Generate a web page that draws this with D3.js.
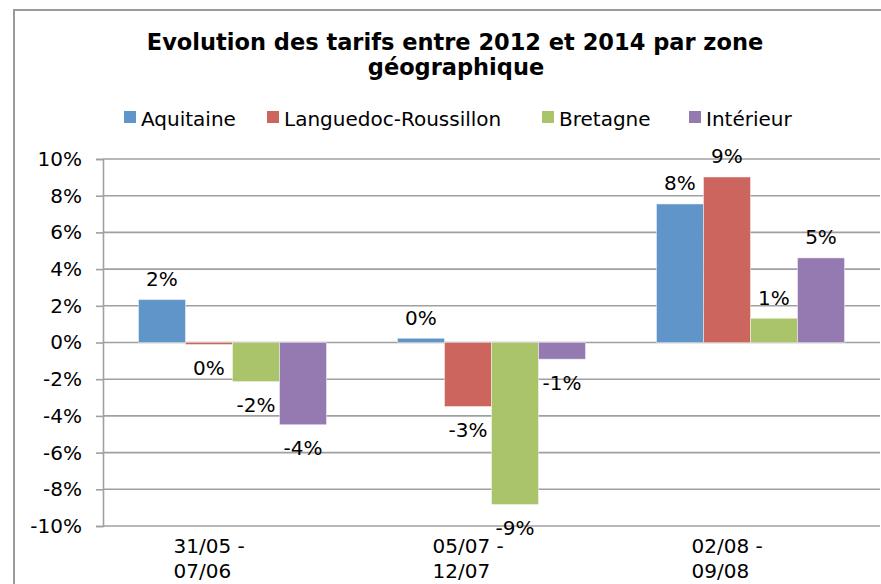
<!DOCTYPE html>
<html><head><meta charset="utf-8">
<script src="https://cdn.jsdelivr.net/npm/d3@7/dist/d3.min.js"></script>
<style>html,body{margin:0;padding:0;background:#fff;overflow:hidden;}svg{display:block;}</style>
</head><body>
<script>
const categories = ["31/05 - 07/06", "05/07 - 12/07", "02/08 - 09/08"];
const categoryLines = [["31/05 -", "07/06"], ["05/07 -", "12/07"], ["02/08 -", "09/08"]];
const seriesNames = ["Aquitaine", "Languedoc-Roussillon", "Bretagne", "Intérieur"];
const aquitaine = [2.34, 0.23, 7.55];
const languedoc = [-0.11, -3.49, 9.02];
const bretagne = [-2.13, -8.83, 1.32];
const interieur = [-4.48, -0.91, 4.61];
const yTicks = [-10, -8, -6, -4, -2, 0, 2, 4, 6, 8, 10];
const colors = ["#6095CA", "#CD655F", "#AAC46A", "#947AB0"];

const seriesValues = [aquitaine, languedoc, bretagne, interieur];
const W = 881, H = 584;
const font = "DejaVu Sans, Verdana, sans-serif";
const svg = d3.select("body").append("svg").attr("width", W).attr("height", H);

// chart frame
svg.append("rect").attr("x", 14).attr("y", 10).attr("width", 900).attr("height", 600)
  .attr("fill", "#fff").attr("stroke", "#9A9A9A").attr("stroke-width", 2);

// title
const title = svg.append("text").attr("text-anchor", "middle").attr("font-family", font)
  .attr("font-weight", "bold").attr("font-size", 22.5).attr("fill", "#000");
title.append("tspan").attr("x", 455).attr("y", 50).text("Evolution des tarifs entre 2012 et 2014 par zone");
title.append("tspan").attr("x", 456).attr("y", 75).text("géographique");

// scales
const x0 = d3.scaleBand().domain(categories).range([103, 880]).paddingInner(0.274).paddingOuter(0.137);
const x1 = d3.scaleBand().domain(seriesNames).range([0, x0.bandwidth()]).padding(0);
const y = d3.scaleLinear().domain([-10, 10]).range([526, 159]);

// gridlines
svg.append("g").selectAll("line").data(yTicks).join("line")
  .attr("x1", 103).attr("x2", 880).attr("y1", d => y(d)).attr("y2", d => y(d))
  .attr("stroke", "#A0A0A0").attr("stroke-width", 1.6);

// y axis
const yAxis = d3.axisLeft(y).tickValues(yTicks).tickFormat(d => d + "%").tickSize(7).tickPadding(14);
const ga = svg.append("g").attr("transform", "translate(103,0)").call(yAxis);
ga.select(".domain").attr("stroke", "#A0A0A0").attr("stroke-width", 1.6);
ga.selectAll(".tick line").attr("stroke", "#A0A0A0").attr("stroke-width", 1.6);
ga.selectAll(".tick text").attr("font-family", font).attr("font-size", 20).attr("fill", "#000");

// bars
const groups = svg.append("g").selectAll("g").data(categories).join("g")
  .attr("transform", c => `translate(${x0(c)},0)`);
groups.each(function(c, ci) {
  const g = d3.select(this);
  seriesNames.forEach((s, si) => {
    const v = seriesValues[si][ci];
    g.append("rect")
      .attr("x", x1(s)).attr("width", x1.bandwidth())
      .attr("y", y(Math.max(0, v))).attr("height", Math.abs(y(v) - y(0)))
      .attr("fill", colors[si]).attr("stroke", "rgba(255,255,255,0.45)").attr("stroke-width", 1);
    const r = Math.round(v);
    g.append("text").attr("text-anchor", "middle").attr("font-family", font).attr("font-size", 20)
      .attr("fill", "#000")
      .attr("x", x1(s) + x1.bandwidth() / 2)
      .attr("y", v >= 0 ? y(v) - 13.5 : y(v) + 30.5)
      .text((r === 0 ? 0 : r) + "%");
  });
});

// category labels
categories.forEach((c, ci) => {
  const cx = x0(c) + x0.bandwidth() / 2;
  const t = svg.append("text").attr("font-family", font).attr("font-size", 20).attr("fill", "#000");
  categoryLines[ci].forEach((ln, li) => {
    t.append("tspan").attr("x", cx - 59).attr("y", 553 + li * 25).text(ln);
  });
});

// legend
const legendX = [124, 267, 542, 689];
const lg = svg.append("g");
seriesNames.forEach((s, i) => {
  lg.append("rect").attr("x", legendX[i]).attr("y", 111).attr("width", 12).attr("height", 12).attr("fill", colors[i]);
  lg.append("text").attr("x", legendX[i] + 17).attr("y", 126).attr("font-family", font)
    .attr("font-size", 20).attr("fill", "#000").text(s);
});
</script>
</body></html>
